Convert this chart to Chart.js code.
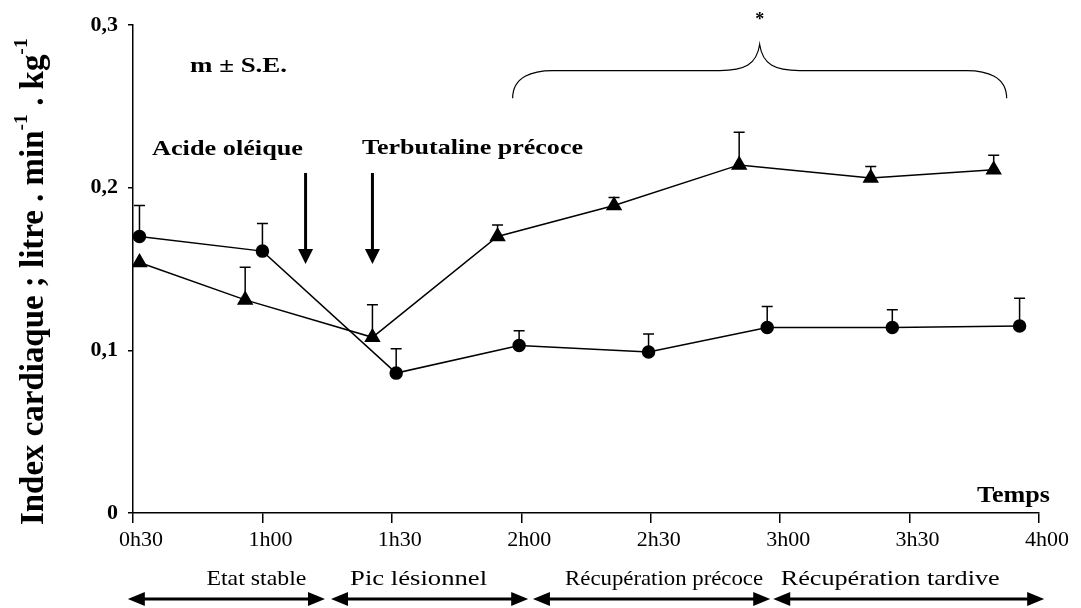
<!DOCTYPE html>
<html lang="fr">
<head>
  <meta charset="utf-8">
  <title>Index cardiaque</title>
  <script type="text/javascript" src="https://cdn.jsdelivr.net/npm/chart.js"></script>
  <style type="text/css">
    html, body { margin:0; padding:0; background:#fff; }
    #chart { display:block; }
  </style>
</head>
<body>

  <canvas id="chart" width="1081" height="608"></canvas>

  <script type="text/javascript">
    // time in minutes, values in litre/min/kg
    const xTicks = [30, 60, 90, 120, 150, 180, 210, 240];
    const xTickLabels = ['0h30', '1h00', '1h30', '2h00', '2h30', '3h00', '3h30', '4h00'];
    const yTickLabels = ['0', '0,1', '0,2', '0,3'];

    // circles
    const circleTimes = [31.5, 60, 91, 119.5, 149.5, 177, 206, 235.5];
    const circleMeans = [0.170, 0.161, 0.086, 0.103, 0.099, 0.114, 0.114, 0.115];
    const circleUpper = [0.189, 0.178, 0.101, 0.112, 0.110, 0.127, 0.125, 0.132];

    // triangles
    const triTimes = [31.5, 56, 85.5, 114.5, 141.5, 170.5, 201, 229.5];
    const triMeans = [0.154, 0.131, 0.108, 0.170, 0.189, 0.214, 0.206, 0.211];
    const triUpper = [0.154, 0.151, 0.128, 0.177, 0.194, 0.234, 0.213, 0.220];

    // injection arrows and phases
    const injections = [{ label: 'Acide oléique', t: 70 }, { label: 'Terbutaline précoce', t: 85.5 }];
    const phases = [
      { label: 'Etat stable', from: 28.8, to: 74.5, mid: 58.6, w: 100 },
      { label: 'Pic lésionnel', from: 75.9, to: 121.6, mid: 96.2, w: 137 },
      { label: 'Récupération précoce', from: 122.7, to: 177.7, mid: 153.1, w: 198 },
      { label: 'Récupération tardive', from: 178.4, to: 241.2, mid: 205.5, w: 219 }
    ];
    const braceRange = [118, 232.5];

    const SERIF = '"Liberation Serif", "DejaVu Serif", serif';

    const fitText = (ctx, text, x, y, width, font, align) => {
      ctx.save();
      ctx.font = font;
      const w = ctx.measureText(text).width;
      const k = width / w;
      ctx.translate(x, y);
      ctx.scale(k, 1);
      ctx.textAlign = 'left';
      ctx.textBaseline = 'middle';
      let x0 = 0;
      if (align === 'center') x0 = -w / 2;
      ctx.fillText(text, x0, 0);
      ctx.restore();
    };

    const errorBars = {
      id: 'errorBars',
      beforeDatasetsDraw(chart) {
        const { ctx, scales: { x, y } } = chart;
        const sets = [[circleTimes, circleMeans, circleUpper], [triTimes, triMeans, triUpper]];
        ctx.save();
        ctx.strokeStyle = '#000';
        ctx.lineWidth = 1.5;
        sets.forEach(([ts, ms, us]) => {
          ts.forEach((t, i) => {
            if (us[i] <= ms[i]) return;
            const px = x.getPixelForValue(t);
            const y0 = y.getPixelForValue(ms[i]);
            const y1 = y.getPixelForValue(us[i]);
            ctx.beginPath();
            ctx.moveTo(px, y0); ctx.lineTo(px, y1);
            ctx.moveTo(px - 5.5, y1); ctx.lineTo(px + 5.5, y1);
            ctx.stroke();
          });
        });
        ctx.restore();
      }
    };

    const annotations = {
      id: 'annotations',
      afterDraw(chart) {
        const { ctx, scales: { x, y } } = chart;
        ctx.save();
        ctx.fillStyle = '#000';
        ctx.strokeStyle = '#000';

        // y title with superscripts
        const parts = [
          ['Index cardiaque ; litre . min', 0], ['-1', 1], [' . kg', 0], ['-1', 1]
        ];
        const base = 30;
        const measure = (size) => parts.reduce((s, [t, sup]) => {
          ctx.font = 'bold ' + (sup ? size * 0.6 : size) + 'px ' + SERIF;
          return s + ctx.measureText(t).width;
        }, 0);
        const size = base * 487 / measure(base);
        ctx.save();
        ctx.translate(43, 525);
        ctx.rotate(-Math.PI / 2);
        ctx.textBaseline = 'alphabetic';
        ctx.textAlign = 'left';
        let pos = 0;
        parts.forEach(([t, sup]) => {
          ctx.font = 'bold ' + (sup ? size * 0.6 : size) + 'px ' + SERIF;
          ctx.fillText(t, pos, sup ? -size * 0.5 : 0);
          pos += ctx.measureText(t).width;
        });
        ctx.restore();

        // texts
        fitText(ctx, 'm ± S.E.', 190, 67, 97, 'bold 20px ' + SERIF);
        fitText(ctx, injections[0].label, 152, 149, 151, 'bold 22px ' + SERIF);
        fitText(ctx, injections[1].label, 362, 148, 221, 'bold 22px ' + SERIF);
        fitText(ctx, 'Temps', 977, 496, 73, 'bold 23px ' + SERIF);

        // injection arrows
        injections.forEach(inj => {
          const px = x.getPixelForValue(inj.t);
          const top = y.getPixelForValue(0.209);
          const tip = y.getPixelForValue(0.153);
          ctx.lineWidth = 3;
          ctx.beginPath();
          ctx.moveTo(px, top); ctx.lineTo(px, tip - 12);
          ctx.stroke();
          ctx.beginPath();
          ctx.moveTo(px - 7.5, tip - 15); ctx.lineTo(px + 7.5, tip - 15); ctx.lineTo(px, tip);
          ctx.closePath();
          ctx.fill();
        });

        // brace with star
        const bl = x.getPixelForValue(braceRange[0]);
        const br = x.getPixelForValue(braceRange[1]);
        const bm = (bl + br) / 2;
        const yEnd = y.getPixelForValue(0.255);
        const yMid = y.getPixelForValue(0.272);
        const yTip = y.getPixelForValue(0.288);
        ctx.lineWidth = 1.2;
        ctx.beginPath();
        ctx.moveTo(bl, yEnd);
        ctx.bezierCurveTo(bl, yMid + 6, bl + 20, yMid, bl + 40, yMid);
        ctx.lineTo(bm - 40, yMid);
        ctx.bezierCurveTo(bm - 15, yMid, bm - 3, yMid - 6, bm, yTip);
        ctx.bezierCurveTo(bm + 3, yMid - 6, bm + 15, yMid, bm + 40, yMid);
        ctx.lineTo(br - 40, yMid);
        ctx.bezierCurveTo(br - 20, yMid, br, yMid + 6, br, yEnd);
        ctx.stroke();
        ctx.font = 'bold 18px ' + SERIF;
        ctx.textAlign = 'center';
        ctx.textBaseline = 'middle';
        ctx.fillText('*', bm, 20);

        // phase arrows
        const ay = 599;
        ctx.lineWidth = 3;
        phases.forEach(ph => {
          const a = x.getPixelForValue(ph.from);
          const b = x.getPixelForValue(ph.to);
          ctx.beginPath();
          ctx.moveTo(a + 12, ay); ctx.lineTo(b - 12, ay);
          ctx.stroke();
          ctx.beginPath();
          ctx.moveTo(a, ay); ctx.lineTo(a + 17, ay - 7); ctx.lineTo(a + 17, ay + 7); ctx.closePath();
          ctx.moveTo(b, ay); ctx.lineTo(b - 17, ay - 7); ctx.lineTo(b - 17, ay + 7); ctx.closePath();
          ctx.fill();
          fitText(ctx, ph.label, x.getPixelForValue(ph.mid), 579, ph.w, '21px ' + SERIF, 'center');
        });
        ctx.restore();
      }
    };

    new Chart(document.getElementById('chart'), {
      type: 'line',
      data: {
        datasets: [
          {
            data: circleTimes.map((t, i) => ({ x: t, y: circleMeans[i] })),
            borderColor: '#000', borderWidth: 1.5,
            pointStyle: 'circle', pointRadius: 6,
            pointBackgroundColor: '#000', pointBorderColor: '#000'
          },
          {
            data: triTimes.map((t, i) => ({ x: t, y: triMeans[i] })),
            borderColor: '#000', borderWidth: 1.5,
            pointStyle: 'triangle', pointRadius: 8,
            pointBackgroundColor: '#000', pointBorderColor: '#000'
          }
        ]
      },
      options: {
        responsive: false,
        animation: false,
        devicePixelRatio: 1,
        layout: { padding: { top: 25, right: 42, bottom: 0, left: 0 } },
        plugins: { legend: { display: false }, tooltip: { enabled: false } },
        scales: {
          x: {
            type: 'linear', min: 30, max: 240,
            afterFit: s => { s.height = 95; },
            afterBuildTicks: s => { s.ticks = xTicks.map(v => ({ value: v })); },
            ticks: {
              callback: v => xTickLabels[xTicks.indexOf(v)],
              font: { family: SERIF, size: 22 }, color: '#000',
              padding: 4, labelOffset: 8, maxRotation: 0
            },
            grid: { drawOnChartArea: false, drawTicks: true, tickLength: 10, color: '#000', lineWidth: 1.5 },
            border: { color: '#000', width: 1.5 }
          },
          y: {
            min: 0, max: 0.3,
            afterFit: s => { s.width = 133; },
            ticks: {
              stepSize: 0.1,
              callback: v => yTickLabels[Math.round(v * 10)],
              font: { family: SERIF, size: 22, weight: 'bold' }, color: '#000',
              padding: 10
            },
            grid: { drawOnChartArea: false, drawTicks: true, tickLength: 5, color: '#000', lineWidth: 1.5 },
            border: { color: '#000', width: 1.5 }
          }
        }
      },
      plugins: [errorBars, annotations]
    });
  </script>

</body>
</html>
